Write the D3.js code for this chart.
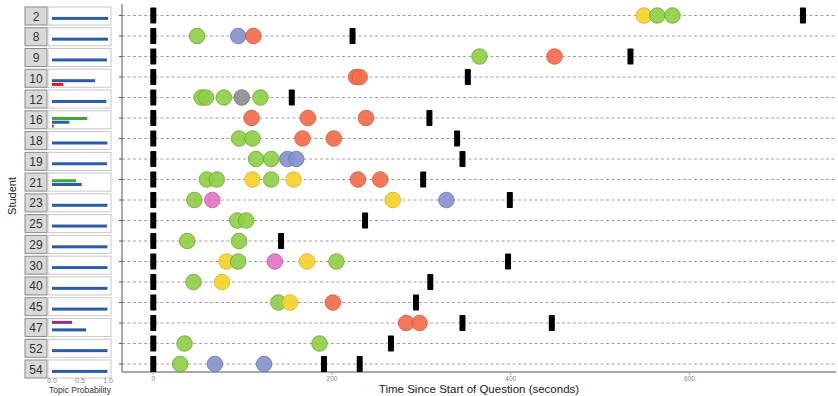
<!DOCTYPE html>
<html><head><meta charset="utf-8">
<script src="https://cdn.jsdelivr.net/npm/d3@7"></script>
<style>body{margin:0;background:#fff}svg{display:block;font-family:"Liberation Sans",Arial,sans-serif}</style>
</head><body><svg id="c" width="838" height="396"></svg>
<script>
const students = ["2","8","9","10","12","16","18","19","21","23","25","29","30","40","45","47","52","54"];
const topics = ["purple","green","blue","red"];
// topic probability per student: [student, topic, prob]
const topicProb = [
  ["2","blue",1.0],["8","blue",1.0],["9","blue",0.98],
  ["10","blue",0.77],["10","red",0.2],
  ["12","blue",0.97],
  ["16","green",0.63],["16","blue",0.31],["16","red",0.03],
  ["18","blue",0.99],["19","blue",0.98],
  ["21","green",0.43],["21","blue",0.53],
  ["23","blue",0.99],["25","blue",0.98],["29","blue",0.99],["30","blue",0.99],
  ["40","blue",0.99],["45","blue",0.99],
  ["47","purple",0.36],["47","blue",0.61],
  ["52","blue",0.99],["54","blue",0.99]
];
// submission / start marks: [student, seconds]
const marks = [
  ["2",0],["2",727],["8",0],["8",223],["9",0],["9",534],["10",0],["10",352],
  ["12",0],["12",155],["16",0],["16",309],["18",0],["18",340],["19",0],["19",346],
  ["21",0],["21",302],["23",0],["23",399],["25",0],["25",237],["29",0],["29",143],
  ["30",0],["30",397],["40",0],["40",310],["45",0],["45",294],
  ["47",0],["47",346],["47",446],["52",0],["52",266],["54",0],["54",191],["54",231]
];
// events: [student, seconds, category]
const events = [
  ["2",549,"yellow"],["2",564,"green"],["2",581,"green"],
  ["8",49,"green"],["8",95,"blue"],["8",112,"orange"],
  ["9",365,"green"],["9",449,"orange"],
  ["10",227,"orange"],["10",231,"orange"],
  ["12",54,"green"],["12",59,"green"],["12",79,"green"],["12",99,"gray"],["12",120,"green"],
  ["16",110,"orange"],["16",173,"orange"],["16",238,"orange"],
  ["18",96,"green"],["18",111,"green"],["18",167,"orange"],["18",202,"orange"],
  ["19",115,"green"],["19",132,"green"],["19",150,"blue"],["19",160,"blue"],
  ["21",60,"green"],["21",71,"green"],["21",111,"yellow"],["21",132,"green"],["21",157,"yellow"],["21",229,"orange"],["21",254,"orange"],
  ["23",46,"green"],["23",66,"pink"],["23",268,"yellow"],["23",328,"blue"],
  ["25",94,"green"],["25",104,"green"],
  ["29",38,"green"],["29",96,"green"],
  ["30",82,"yellow"],["30",95,"green"],["30",136,"pink"],["30",172,"yellow"],["30",205,"green"],
  ["40",45,"green"],["40",77,"yellow"],
  ["45",140,"green"],["45",153,"yellow"],["45",201,"orange"],
  ["47",283,"orange"],["47",298,"orange"],
  ["52",35,"green"],["52",186,"green"],
  ["54",30,"green"],["54",69,"blue"],["54",124,"blue"]
];
const xTicks = [0,200,400,600];
const pTicks = [0,0.5,1.0];

const catFill = {green:"#8fcf48",orange:"#f46d4c",blue:"#8493cc",pink:"#e274c4",yellow:"#f7d22a",gray:"#8e8e8e"};
const catStroke = {green:"#6aa632",orange:"#d4553a",blue:"#6777b0",pink:"#c45aa6",yellow:"#d8b020",gray:"#6e6e6e"};
const topicCol = {purple:"#8e2f8f",green:"#3da63a",blue:"#2a5ca8",red:"#e41a1c"};

const svg = d3.select("#c");
const x = d3.scaleLinear().domain([-35,764]).range([122,836]);
const y = d3.scalePoint().domain(students).range([15.5,364]);
const yL = d3.scalePoint().domain(students).range([16,369]);
const p = d3.scaleLinear().domain([0,1]).range([52,108]);
const tb = d3.scaleBand().domain(topics).range([-7,8]);

// ----- left panel -----
const left = svg.append("g");
const rows = left.selectAll("g.row").data(students).join("g").attr("transform",d=>`translate(0,${yL(d)})`);
rows.append("rect").attr("x",25).attr("y",-9).attr("width",22).attr("height",18).attr("fill","#d9d9d9").attr("stroke","#8a8a8a").attr("stroke-width",1);
rows.append("text").attr("x",36).attr("y",4.5).attr("text-anchor","middle").attr("font-size",12).attr("fill","#333").text(d=>d);
rows.append("rect").attr("x",48).attr("y",-9).attr("width",63).attr("height",18).attr("fill","#fff").attr("stroke","#c8c8c8").attr("stroke-width",1);
left.selectAll("rect.tp").data(topicProb).join("rect").attr("class","tp")
  .attr("x",p(0)).attr("y",d=>yL(d[0])+tb(d[1])+0.4).attr("width",d=>p(d[2])-p(0)).attr("height",3)
  .attr("fill",d=>topicCol[d[1]]);
left.selectAll("text.pt").data(pTicks).join("text").attr("class","pt")
  .attr("x",d=>p(d)).attr("y",383).attr("text-anchor","middle").attr("font-size",7).attr("fill","#888")
  .text(d=>d3.format(".1f")(d));
left.append("text").attr("x",80).attr("y",393).attr("text-anchor","middle").attr("font-size",8.5).attr("fill","#333").text("Topic Probability");
left.append("text").attr("transform","translate(16,196) rotate(-90)").attr("text-anchor","middle").attr("font-size",11).attr("fill","#222").text("Student");

// ----- main panel -----
const main = svg.append("g");
main.selectAll("line.grid").data(students).join("line").attr("class","grid")
  .attr("x1",122).attr("x2",836).attr("y1",d=>y(d)).attr("y2",d=>y(d))
  .attr("stroke","#8a8a8a").attr("stroke-width",0.8).attr("stroke-dasharray","3,2.5");
// left axis
main.append("line").attr("x1",122).attr("x2",122).attr("y1",4).attr("y2",372).attr("stroke","#555").attr("stroke-width",1);
main.selectAll("line.yt").data(students).join("line").attr("class","yt")
  .attr("x1",119).attr("x2",122).attr("y1",d=>y(d)).attr("y2",d=>y(d)).attr("stroke","#555");
// bottom axis
main.append("line").attr("x1",122).attr("x2",836).attr("y1",372).attr("y2",372).attr("stroke","#a8a8a8").attr("stroke-width",2);
main.selectAll("line.xt").data(xTicks).join("line").attr("class","xt")
  .attr("x1",d=>x(d)).attr("x2",d=>x(d)).attr("y1",373).attr("y2",375).attr("stroke","#aaa");
main.selectAll("text.xl").data(xTicks).join("text").attr("class","xl")
  .attr("x",d=>x(d)).attr("y",381).attr("text-anchor","middle").attr("font-size",6.5).attr("fill","#888").text(d=>d);
main.append("text").attr("x",479).attr("y",392.5).attr("text-anchor","middle").attr("font-size",11.5).attr("fill","#222").text("Time Since Start of Question (seconds)");

// circles
main.selectAll("circle.ev").data(events).join("circle").attr("class","ev")
  .attr("cx",d=>x(d[1])).attr("cy",d=>y(d[0])).attr("r",7.8)
  .attr("fill",d=>catFill[d[2]]).attr("fill-opacity",0.92)
  .attr("stroke",d=>catStroke[d[2]]).attr("stroke-width",0.8);
// marks
main.selectAll("rect.mk").data(marks).join("rect").attr("class","mk")
  .attr("x",d=>x(d[1])-3).attr("y",d=>y(d[0])-8).attr("width",6).attr("height",16).attr("rx",0.8)
  .attr("fill","#000");
</script></body></html>
